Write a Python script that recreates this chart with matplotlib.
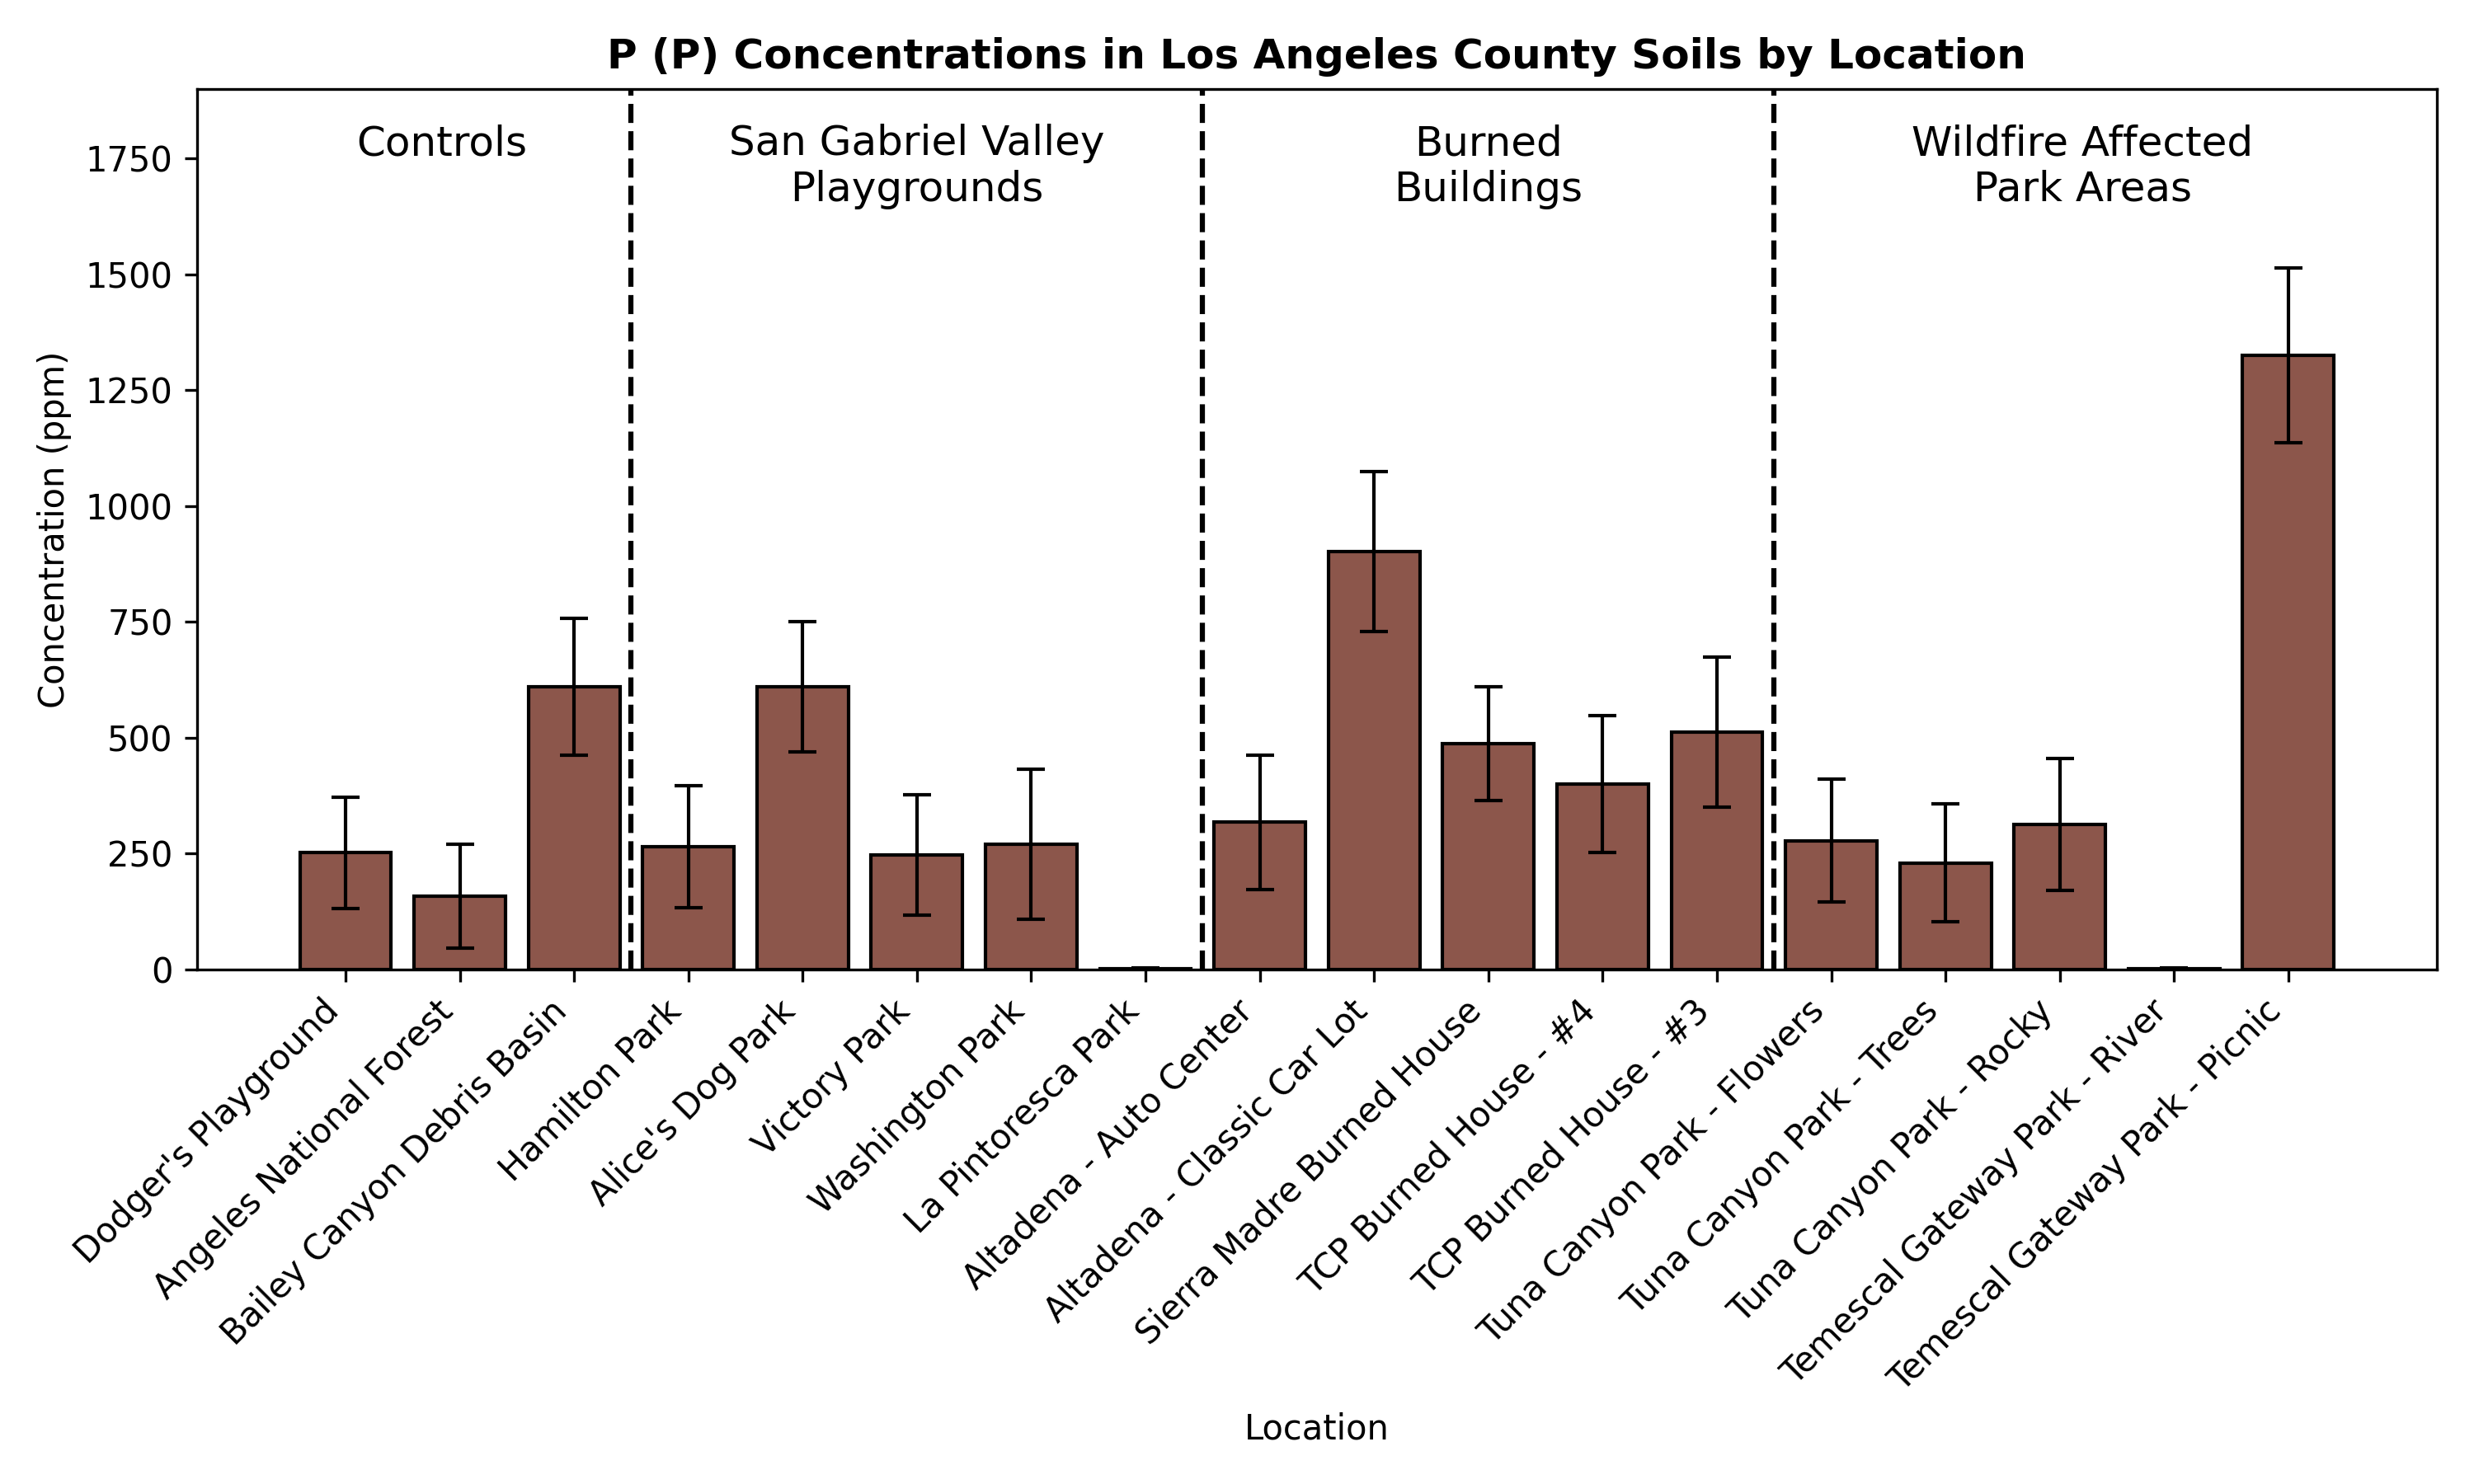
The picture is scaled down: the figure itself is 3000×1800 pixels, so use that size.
import matplotlib
matplotlib.use("Agg")
import matplotlib.pyplot as plt
import numpy as np

locations = [
    "Dodger's Playground", "Angeles National Forest", "Bailey Canyon Debris Basin",
    "Hamilton Park", "Alice's Dog Park", "Victory Park", "Washington Park",
    "La Pintoresca Park", "Altadena - Auto Center", "Altadena - Classic Car Lot",
    "Sierra Madre Burned House", "TCP Burned House - #4", "TCP Burned House - #3",
    "Tuna Canyon Park - Flowers", "Tuna Canyon Park - Trees", "Tuna Canyon Park - Rocky",
    "Temescal Gateway Park - River", "Temescal Gateway Park - Picnic",
]
values = [252, 158, 610, 265, 610, 247, 270, 2, 318, 902, 487, 400, 512, 278, 230, 313, 2, 1325]
errors = [120, 112, 148, 132, 140, 130, 162, 1, 145, 172, 123, 147, 162, 132, 128, 142, 1, 188]

groups = ["Controls", "San Gabriel Valley\nPlaygrounds", "Burned\nBuildings", "Wildfire Affected\nPark Areas"]
group_label_x = [0.84, 5.0, 10.0, 15.2]
separators = [2.5, 7.5, 12.5]

fig, ax = plt.subplots(figsize=(10, 6), dpi=300)
x = np.arange(len(locations))
ax.bar(x, values, width=0.8, yerr=errors, color="#8c564b", edgecolor="black",
       linewidth=1.0, capsize=4, error_kw=dict(elinewidth=1.0, capthick=1.0, ecolor="black"))

for s in separators:
    ax.axvline(s, color="black", linestyle="--", linewidth=1.5)

for gx, g in zip(group_label_x, groups):
    ax.text(gx, 1825, g, ha="center", va="top", fontsize=12)

ax.set_xlim(-1.3, 18.3)
ax.set_ylim(0, 1900)
ax.set_xticks(x)
ax.set_xticklabels(locations, rotation=45, ha="right", fontsize=10)
ax.set_xlabel("Location", fontsize=10)
ax.set_ylabel("Concentration (ppm)", fontsize=10)
ax.set_title("P (P) Concentrations in Los Angeles County Soils by Location",
             fontsize=12, fontweight="bold")

fig.tight_layout()
fig.savefig("out.png", dpi=300)
